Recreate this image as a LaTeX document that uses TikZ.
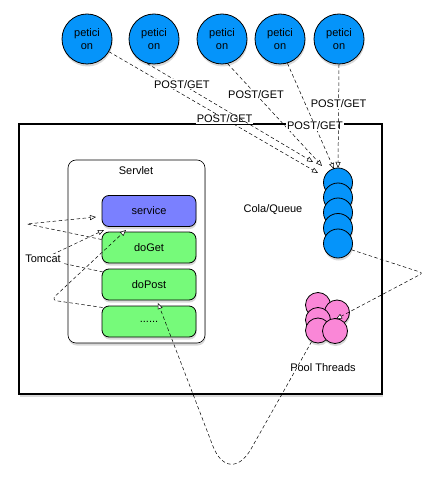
\documentclass[tikz,border=0pt]{standalone}
\usepackage{fontspec}
\setmainfont{Liberation Sans}
\usetikzlibrary{arrows.meta,shadows,calc}
\definecolor{petblue}{RGB}{5,148,250}
\definecolor{servblue}{RGB}{122,128,255}
\definecolor{boxgreen}{RGB}{118,250,122}
\definecolor{poolpink}{RGB}{250,135,215}
\tikzset{
  shad/.style={drop shadow={shadow xshift=0.6pt,shadow yshift=-2.5pt,opacity=0.3}},
  pet/.style={circle,draw=black,line width=0.8pt,fill=petblue,minimum size=50pt,inner sep=0pt,align=center,font=\fontsize{11}{13}\selectfont,shad},
  qc/.style={circle,draw=black,line width=0.8pt,fill=petblue,minimum size=29pt,inner sep=0pt,shad},
  pc/.style={circle,draw=black,line width=0.8pt,fill=poolpink,minimum size=25pt,inner sep=0pt,shad},
  mbox/.style={rectangle,rounded corners=7pt,draw=black,line width=0.8pt,minimum width=94pt,minimum height=31pt,inner sep=0pt,font=\fontsize{11}{13}\selectfont,shad},
  lbl/.style={font=\fontsize{11}{13}\selectfont,inner sep=1pt},
  wlbl/.style={lbl,fill=white},
  conn/.style={draw=black,line width=0.5pt,dash pattern=on 3.5pt off 2.5pt},
  tip/.style={-{Triangle[fill=white,length=6pt,width=5pt,line width=0.5pt]}}
}
\begin{document}
\begin{tikzpicture}[x=1pt,y=-1pt]
\useasboundingbox (0,0) rectangle (434,481);
% outer frame
\node[draw=black,line width=1.2pt,fill=white,minimum width=363pt,minimum height=270pt,inner sep=0pt,shad] (frame) at (200.5,259) {};
% servlet box
\node[draw=black,line width=0.6pt,fill=white,rounded corners=8pt,minimum width=137pt,minimum height=183pt,inner sep=0pt,shad] (servlet) at (136.5,251.5) {};
\node[lbl] (servletlbl) at (136,171) {Servlet};
\node[mbox,fill=servblue] (service) at (149,211) {service};
\node[mbox,fill=boxgreen] (doGet) at (149,247.5) {doGet};
\node[mbox,fill=boxgreen] (doPost) at (149,284.5) {doPost};
\node[mbox,fill=boxgreen] (dots) at (149,321.5) {......};
% queue
\node[qc] (q1) at (338,182.5) {};
\node[qc] (q2) at (338,197.5) {};
\node[qc] (q3) at (338,212.5) {};
\node[qc] (q4) at (338,228) {};
\node[qc] (q5) at (338,243.5) {};
\node[lbl] (colalbl) at (273,210) {Cola/Queue};
% pool
\node[pc] (pa) at (318,305) {};
\node[pc] (pb) at (337,312.5) {};
\node[pc] (pcc) at (318,320) {};
\node[pc] (pd) at (318,330.5) {};
\node[pc] (pe) at (335,331) {};
\node[lbl] (poollbl) at (323,368) {Pool Threads};
% peticiones
\node[pet] (p1) at (87,39) {petici\\on};
\node[pet] (p2) at (154,39) {petici\\on};
\node[pet] (p3) at (222,39) {petici\\on};
\node[pet] (p4) at (280,39) {petici\\on};
\node[pet] (p5) at (339,39) {petici\\on};
% arrow targets
\coordinate (t1) at (318,173);
\coordinate (t2) at (313,162);
\coordinate (t3) at (322,166);
\coordinate (t4) at (334,169);
\coordinate (t5) at (338,168);
\draw[conn,tip] (p1) -- (t1) node[wlbl,pos=0.553] (l1) {POST/GET};
\draw[conn,tip] (p2.-106) -- (t2) node[wlbl,pos=0.21] (l2) {POST/GET};
\draw[conn,tip] (p3.-77) -- (t3) node[wlbl,pos=0.30] (l3) {POST/GET};
\draw[conn,tip] (p4.-73) -- (t4) node[wlbl,pos=0.59] (l4) {POST/GET};
\draw[conn,tip] (p5.south) -- (t5) node[wlbl,pos=0.38] (l5) {POST/GET};
% tomcat loops
\coordinate (s1) at (96,217);
\coordinate (s2) at (104,230);
\coordinate (s3) at (126,230);
\draw[conn,tip] ($(doGet.west)+(0,-8)$) -- (27,224) -- (s1);
\draw[conn,tip] (103,272) -- (43,259) -- (s2);
\draw[conn,tip,rounded corners=6pt] ($(dots.west)+(1,-14)$) -- (51,300) -- (s3);
\node[lbl,fill=white] (tomcatlbl) at (43,259) {Tomcat};
% pool to doPost
\coordinate (dp) at (158,303);
\draw[conn,tip,rounded corners=45pt] (pd.-120) -- (229,488) -- (dp);
% queue to pool
\coordinate (pt) at (336,319);
\draw[conn,tip,rounded corners=3pt] (q5.-25) -- (423,273) -- (pt);
\end{tikzpicture}
\end{document}
